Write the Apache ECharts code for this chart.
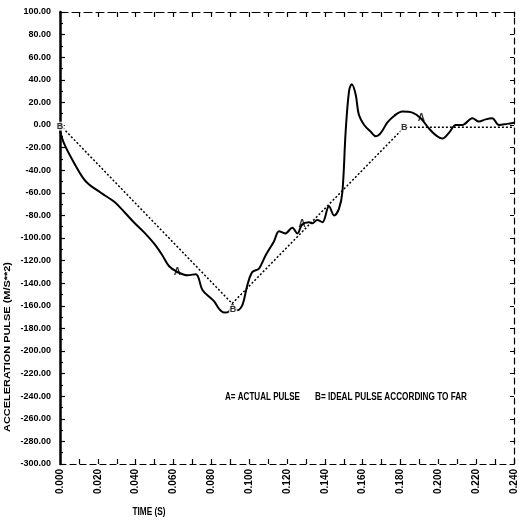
<!DOCTYPE html>
<html>
<head>
<meta charset="utf-8">
<script src="https://cdn.jsdelivr.net/npm/echarts@6/dist/echarts.min.js"></script>
<style>html,body{margin:0;padding:0;background:#fff}#c{width:519px;height:521px}</style>
</head>
<body>
<div id="c"></div>
<script>
// Actual pulse A: time (s), acceleration (m/s^2)
var actualTime = [0,0.0023,0.0076,0.0137,0.0216,0.0287,0.034,0.039,0.0445,0.0498,0.054,0.0577,0.062,0.0674,0.0718,0.0753,0.0789,0.0815,0.0842,0.0868,0.0894,0.0912,0.0938,0.0965,0.099,0.1017,0.1052,0.1088,0.1131,0.1158,0.119,0.1228,0.1255,0.128,0.1316,0.1334,0.136,0.1387,0.1422,0.1449,0.1475,0.1493,0.151,0.1528,0.1542,0.1563,0.158,0.1608,0.1643,0.167,0.1696,0.173,0.1766,0.181,0.1863,0.1907,0.195,0.1986,0.2021,0.2056,0.2092,0.2127,0.218,0.2215,0.225,0.2285,0.232,0.2364,0.24];
var actualAccel = [-5,-17,-34,-50,-60,-68,-77,-86,-95,-105,-115,-125,-130,-133,-132,-146,-152,-156,-163,-166,-165,-159,-164,-159,-142,-130,-127,-115,-103,-94,-96,-91,-96,-88,-86,-87,-84,-86,-72,-80,-74,-59,-6,30,36,27,9,0,-6,-10,-7,2,8,12,11,6,-3,-9,-12,-7,0,0,6,3,5,6,0,1,2];
// Ideal pulse B according to FAR
var idealTime = [0, 0.091, 0.182, 0.24];
var idealAccel = [0, -158, -2, -2];
// Point labels
var labelAText = ['A','A','A'];
var labelATime = [0.062, 0.128, 0.191];
var labelAAccel = [-130, -88, 6];
var labelBText = ['B','B','B'];
var labelBTime = [0, 0.0915, 0.182];
var labelBAccel = [-1, -163, -2];
// Axis ticks
var xMin = 0, xMax = 0.24, xStep = 0.02;
var yMin = -300, yMax = 100, yStep = 20;
// Texts
var yTitle = 'ACCELERATION PULSE (M/S**2)';
var xTitle = 'TIME (S)';
var noteA = 'A= ACTUAL PULSE';
var noteB = 'B= IDEAL PULSE ACCORDING TO FAR';

var FONT = "'Liberation Sans',Arial,sans-serif";
var mctx = document.createElement('canvas').getContext('2d');
function fitScale(text, px, target){ mctx.font = 'bold ' + px + 'px ' + FONT; return target / mctx.measureText(text).width; }
function zip(a,b){return a.map(function(v,i){return [v,b[i]];});}
function labelPts(t,v,s){return t.map(function(x,i){return {value:[x,v[i]], label:{formatter:s[i]}};});}

var chart = echarts.init(document.getElementById('c'), null, {renderer:'canvas'});
chart.setOption({
  animation:false,
  backgroundColor:'#fff',
  grid:{left:60, right:4, top:12, bottom:57},
  xAxis:[{
    type:'value', min:xMin, max:xMax, interval:xStep, position:'bottom',
    axisLine:{show:true, onZero:false, lineStyle:{color:'#000', width:1.2, type:[6,4]}},
    axisTick:{show:true, inside:true, length:5, lineStyle:{color:'#000', width:1.2}},
    minorTick:{show:true, splitNumber:2, length:5, lineStyle:{color:'#000', width:1.2}},
    splitLine:{show:false},
    axisLabel:{rotate:90, margin:5, color:'#000', fontFamily:FONT, fontWeight:'bold', fontSize:10,
      formatter:function(v){return v.toFixed(3);}}
  },{
    type:'value', min:xMin, max:xMax, interval:xStep, position:'top',
    axisLine:{show:true, onZero:false, lineStyle:{color:'#000', width:1.2, type:[8,4]}},
    axisTick:{show:true, inside:true, length:5, lineStyle:{color:'#000', width:1.2}},
    minorTick:{show:true, splitNumber:2, length:5, lineStyle:{color:'#000', width:1.2}},
    splitLine:{show:false}, axisLabel:{show:false}
  }],
  yAxis:[{
    type:'value', min:yMin, max:yMax, interval:yStep, position:'left',
    axisLine:{show:true, onZero:false, lineStyle:{color:'#000', width:2.5}},
    axisTick:{show:true, inside:true, length:5, lineStyle:{color:'#000', width:1.2}},
    minorTick:{show:true, splitNumber:2, length:3, lineStyle:{color:'#000', width:1.2}},
    splitLine:{show:false},
    axisLabel:{margin:9, color:'#000', fontFamily:FONT, fontWeight:'bold', fontSize:9,
      formatter:function(v){return v.toFixed(2);}}
  },{
    type:'value', min:yMin, max:yMax, interval:yStep, position:'right',
    axisLine:{show:true, onZero:false, lineStyle:{color:'#000', width:1.2, type:[6,4]}},
    axisTick:{show:true, inside:true, length:4, lineStyle:{color:'#000', width:1}},
    splitLine:{show:false}, axisLabel:{show:false}
  }],
  series:[{
    name:'A', type:'line', data:zip(actualTime, actualAccel), smooth:0.35, showSymbol:false,
    lineStyle:{color:'#000', width:2}, z:3
  },{
    name:'B', type:'line', data:zip(idealTime, idealAccel), showSymbol:false,
    lineStyle:{color:'#000', width:1.5, type:[2,2]}, z:2
  },{
    type:'scatter', data:labelPts(labelATime, labelAAccel, labelAText), symbolSize:1,
    itemStyle:{color:'rgba(0,0,0,0)'},
    label:{show:true, position:'inside', color:'#000', fontFamily:FONT, fontWeight:'bold', fontSize:10}, z:4
  },{
    type:'scatter', data:labelPts(labelBTime, labelBAccel, labelBText), symbolSize:1,
    itemStyle:{color:'rgba(0,0,0,0)'},
    label:{show:true, position:'inside', color:'#000', fontFamily:FONT, fontWeight:'bold', fontSize:9,
      backgroundColor:'#fff', padding:[0,1]}, z:4
  }],
  graphic:[{
    type:'text', x:8, y:347, rotation:Math.PI/2, scaleX:fitScale(yTitle,9,170),
    style:{text:yTitle, fill:'#000', font:"bold 9px "+FONT, align:'center', verticalAlign:'middle'}
  },{
    type:'text', x:149, y:512, scaleX:fitScale(xTitle,10,33),
    style:{text:xTitle, fill:'#000', font:"bold 10px "+FONT, align:'center', verticalAlign:'middle'}
  },{
    type:'text', x:225, y:397, scaleX:fitScale(noteA,10,75),
    style:{text:noteA, fill:'#000', font:"bold 10px "+FONT, align:'left', verticalAlign:'middle'}
  },{
    type:'text', x:315, y:397, scaleX:fitScale(noteB,10,152),
    style:{text:noteB, fill:'#000', font:"bold 10px "+FONT, align:'left', verticalAlign:'middle'}
  }]
});
</script>
</body>
</html>
